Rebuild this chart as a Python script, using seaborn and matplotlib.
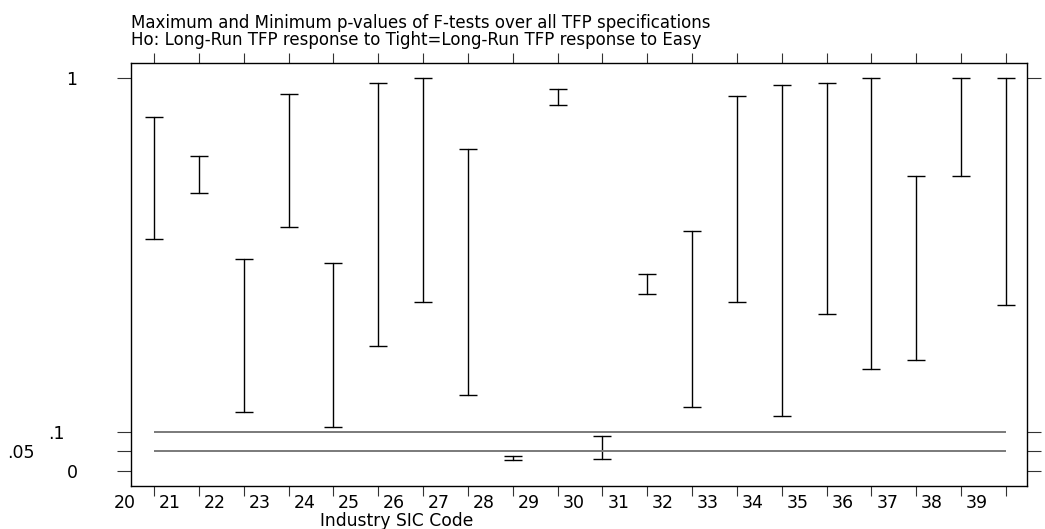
import matplotlib
matplotlib.use("Agg")
import matplotlib.pyplot as plt
from matplotlib.transforms import ScaledTranslation
import pandas as pd
import seaborn as sns

# Data
sic_codes = list(range(20, 40))
p_max = [0.899, 0.801, 0.539, 0.959, 0.529, 0.987, 1.000, 0.819, 0.039, 0.970,
         0.088, 0.501, 0.611, 0.952, 0.980, 0.987, 1.000, 0.751, 1.000, 1.000]
p_min = [0.590, 0.707, 0.150, 0.621, 0.112, 0.318, 0.430, 0.193, 0.028, 0.929,
         0.030, 0.451, 0.163, 0.430, 0.140, 0.399, 0.260, 0.282, 0.751, 0.422]
y_ticks = [0, 0.05, 0.1, 1]
y_tick_labels = ["0", ".05", ".1", "1"]
ref_lines = [0.1, 0.05]

title_lines = ["Maximum and Minimum p-values of F-tests over all TFP specifications",
               "Ho: Long-Run TFP response to Tight=Long-Run TFP response to Easy"]

# long format: one row for max, one for min per industry
df = pd.DataFrame({"sic": sic_codes + sic_codes, "p": p_max + p_min})

sns.set_theme(style="ticks")
plt.rcParams["font.family"] = ["DejaVu Sans"]
plt.rcParams["text.color"] = "black"
plt.rcParams["axes.labelcolor"] = "black"
plt.rcParams["xtick.color"] = "black"
plt.rcParams["ytick.color"] = "black"

fig = plt.figure(figsize=(10.45, 5.29), dpi=100)
ax = fig.add_axes([131 / 1045, 1 - 486 / 529, 896 / 1045, 423 / 529])

# range bars from min to max (percentile interval of 100 = min..max)
sns.lineplot(data=df, x="sic", y="p", estimator="mean", errorbar=("pi", 100),
             err_style="bars", linestyle="none", color="black",
             err_kws={"capsize": 6.8, "elinewidth": 1.0, "capthick": 1.0},
             legend=False, ax=ax)

# reference lines at .1 and .05
ax.hlines(ref_lines, sic_codes[0], sic_codes[-1], color="#7a7a7a", linewidth=1.4)

ax.set_xlim(19.487, 39.47)
ax.set_ylim(-0.038, 1.037)

# x axis: ticks top and bottom, labels shifted left like the original
ax.set_xticks(sic_codes, labels=[str(c) for c in sic_codes])
ax.tick_params(axis="x", top=True, bottom=True, direction="out", length=7.2,
               width=0.8, color="#333333", labelsize=12.5, pad=-1.4)
for lab in ax.get_xticklabels():
    lab.set_transform(lab.get_transform() + ScaledTranslation(-0.29, 0, fig.dpi_scale_trans))

# y axis: ticks both sides, labels only left with staggered positions
ax.set_yticks(y_ticks, labels=y_tick_labels)
ax.tick_params(axis="y", left=True, right=True, direction="out", length=10,
               width=0.8, color="#333333", labelsize=12.5, pad=0)
y_offsets = [-45, -96, -61, -45]
for lab, dx in zip(ax.get_yticklabels(), y_offsets):
    lab.set_horizontalalignment("center")
    lab.set_transform(lab.get_transform() + ScaledTranslation(dx / 100, 0, fig.dpi_scale_trans))

for sp in ax.spines.values():
    sp.set_visible(True)
    sp.set_color("black")
    sp.set_linewidth(1.0)

ax.set_ylabel("")
ax.set_xlabel("Industry SIC Code", fontsize=12.3)
ax.xaxis.set_label_coords(0.297, -0.062)

# two-line title, left aligned with the plot box
fig.text(131 / 1045, 1 - 14 / 529, "\n".join(title_lines), ha="left", va="top",
         fontsize=12, linespacing=0.95)

fig.savefig("out.png", dpi=100)
